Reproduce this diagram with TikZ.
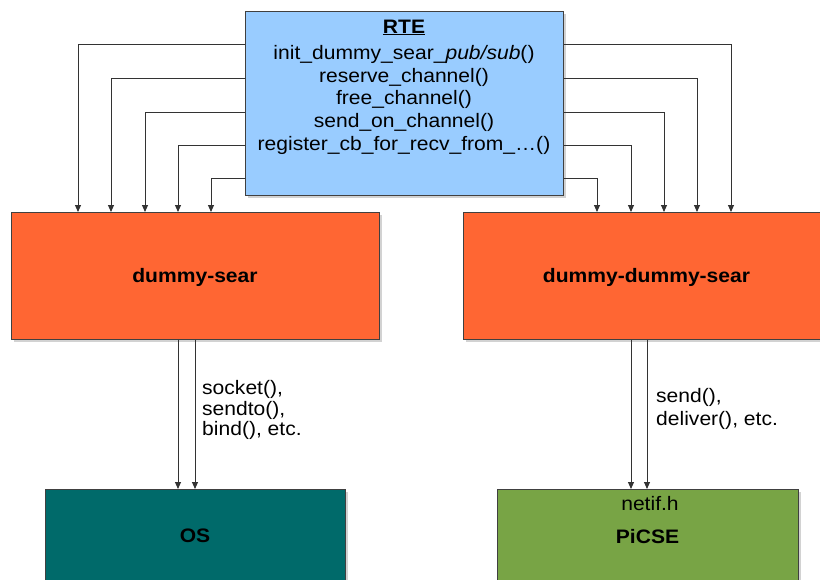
\documentclass[tikz,border=0pt]{standalone}
\usepackage{fontspec}
\setmainfont{Liberation Sans}[FakeStretch=1.08]
\usetikzlibrary{arrows.meta,shadows}
\definecolor{rteblue}{HTML}{99CCFF}
\definecolor{searorange}{HTML}{FF6633}
\definecolor{osteal}{HTML}{006A6A}
\definecolor{picgreen}{HTML}{78A445}
\begin{document}
\begin{tikzpicture}[x=1pt,y=-1pt,
  every node/.style={font=\fontsize{19.5}{22}\selectfont},
  box/.style={draw=black!75, line width=0.8pt, inner sep=0pt, anchor=north west,
    drop shadow={shadow xshift=2.5pt, shadow yshift=-2.5pt, opacity=0.35}},
  txt/.style={anchor=base, inner sep=0pt},
  ltxt/.style={anchor=base west, inner sep=0pt},
  conn/.style={draw=black!80, line width=0.9pt, -{Triangle[length=7pt,width=6pt]}}]
\useasboundingbox (0,0) rectangle (820,579);
\clip (0,0) rectangle (820,579);
\fill[white] (0,0) rectangle (820,579);
% boxes
\node[box, fill=rteblue, minimum width=318pt, minimum height=184pt] (rte) at (245,11) {};
\node[box, fill=searorange, minimum width=368pt, minimum height=127pt] (ds) at (11,212) {};
\node[box, fill=searorange, minimum width=367pt, minimum height=127pt] (dds) at (463,212) {};
\node[box, fill=osteal, minimum width=300pt, minimum height=120pt] (os) at (45,489) {};
\node[box, fill=picgreen, minimum width=301pt, minimum height=120pt] (pic) at (497,489) {};
% RTE text
\node[txt] (t0) at (404,33) {\bfseries\underline{RTE}};
\node[txt] (t1) at (404,59) {init\_dummy\_sear\_\textit{pub/sub}()};
\node[txt] (t2) at (404,82) {reserve\_channel()};
\node[txt] (t3) at (404,104.5) {free\_channel()};
\node[txt] (t4) at (404,127) {send\_on\_channel()};
\node[txt] (t5) at (404,150) {register\_cb\_for\_recv\_from\_…()};
% box labels
\node[txt] (lds) at (195,282) {\bfseries dummy-sear};
\node[txt] (ldds) at (646.5,282) {\bfseries dummy-dummy-sear};
\node[txt] (los) at (195,542) {\bfseries OS};
\node[txt] (lnet) at (650,510.5) {netif.h};
\node[txt] (lpic) at (647.5,543) {\bfseries PiCSE};
% connectors RTE -> dummy-sear
\foreach \dy/\dx in {33.7/67, 67/100, 101/134, 134/167, 167/200}
  \draw[conn] ([yshift=-\dy pt]rte.north west) -| ([xshift=\dx pt]ds.north west);
% connectors RTE -> dummy-dummy-sear
\foreach \dy/\dx in {33.7/268, 67/234, 101/201, 134/168, 167/134}
  \draw[conn] ([yshift=-\dy pt]rte.north east) -| ([xshift=\dx pt]dds.north west);
% down connectors
\draw[conn] ([xshift=167pt]ds.south west) -- ([xshift=133pt]os.north west);
\draw[conn] ([xshift=184pt]ds.south west) -- ([xshift=150pt]os.north west);
\draw[conn] ([xshift=168pt]dds.south west) -- ([xshift=134pt]pic.north west);
\draw[conn] ([xshift=184pt]dds.south west) -- ([xshift=150pt]pic.north west);
% connector labels
\node[ltxt] (s1) at (202,394) {socket(),};
\node[ltxt] (s2) at (202,415) {sendto(),};
\node[ltxt] (s3) at (202,435) {bind(), etc.};
\node[ltxt] (d1) at (656,402) {send(),};
\node[ltxt] (d2) at (656,425) {deliver(), etc.};
\end{tikzpicture}
\end{document}
